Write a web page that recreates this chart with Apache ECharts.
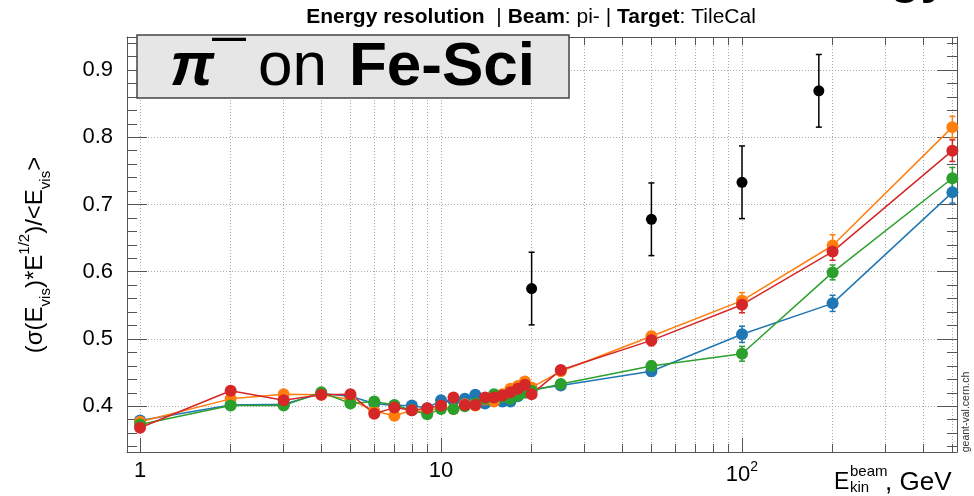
<!DOCTYPE html>
<html><head><meta charset="utf-8">
<script src="https://cdn.jsdelivr.net/npm/echarts@6/dist/echarts.min.js"></script>
<style>html,body{margin:0;padding:0;background:#fff}#c{width:974px;height:496px}</style>
</head><body><div id="c"></div>
<script>
// ---- data ----
const energies = [1,2,3,4,5,6,7,8,9,10,11,12,13,14,15,16,17,18,19,20,25,50,100,200,500];
const blueVals   = [0.379,0.402,0.403,0.419,0.415,0.404,0.401,0.401,0.397,0.409,0.408,0.411,0.417,0.404,0.410,0.407,0.407,0.415,0.423,0.425,0.431,0.452,0.507,0.553,0.718];
const orangeVals = [0.377,0.411,0.418,0.417,0.410,0.393,0.386,0.394,0.391,0.400,0.396,0.403,0.401,0.410,0.407,0.418,0.426,0.430,0.437,0.428,0.452,0.504,0.557,0.639,0.815];
const greenVals  = [0.373,0.401,0.401,0.421,0.404,0.407,0.402,0.394,0.388,0.396,0.396,0.400,0.404,0.411,0.418,0.414,0.411,0.416,0.420,0.423,0.433,0.460,0.478,0.599,0.739];
const redVals    = [0.368,0.423,0.409,0.417,0.418,0.389,0.398,0.394,0.397,0.401,0.413,0.402,0.402,0.413,0.413,0.416,0.421,0.426,0.432,0.418,0.454,0.498,0.551,0.630,0.780];
const blueErr    = [0.004,0.004,0.004,0.004,0.004,0.004,0.004,0.004,0.004,0.004,0.004,0.004,0.004,0.004,0.004,0.004,0.004,0.004,0.004,0.005,0.005,0.007,0.012,0.012,0.016];
const orangeErr  = [0.004,0.004,0.004,0.004,0.004,0.004,0.004,0.004,0.004,0.004,0.004,0.004,0.004,0.004,0.004,0.004,0.004,0.004,0.004,0.005,0.005,0.007,0.012,0.016,0.016];
const greenErr   = [0.004,0.004,0.004,0.004,0.004,0.004,0.004,0.004,0.004,0.004,0.004,0.004,0.004,0.004,0.004,0.004,0.004,0.004,0.004,0.005,0.005,0.007,0.011,0.011,0.016];
const redErr     = [0.004,0.004,0.004,0.004,0.004,0.004,0.004,0.004,0.004,0.004,0.004,0.004,0.004,0.004,0.004,0.004,0.004,0.004,0.004,0.005,0.005,0.008,0.012,0.013,0.016];
const expEnergies = [20,50,100,180];
const expVals     = [0.575,0.678,0.733,0.869];
const expErr      = [0.054,0.054,0.054,0.054];
const xMajorTicks = [1,10,100];
const xAllTicks = [1,2,3,4,5,6,7,8,9,10,20,30,40,50,60,70,80,90,100,200,300,400,500];
const yMajorTicks = [0.4,0.5,0.6,0.7,0.8,0.9];
const yMinorTicks = [0.34,0.36,0.38,0.42,0.44,0.46,0.48,0.52,0.54,0.56,0.58,0.62,0.64,0.66,0.68,0.72,0.74,0.76,0.78,0.82,0.84,0.86,0.88,0.92,0.94];

const FONT = 'Liberation Sans';
const XMIN = 0.905, XMAX = 518, YMIN = 0.332, YMAX = 0.949;
const AXC = '#555';

function pairs(xs, ys){ return xs.map((x,i)=>[x, ys[i]]); }
function lineSeries(name, ys, color){
  return {name, type:'line', data:pairs(energies, ys), symbol:'circle', symbolSize:12,
    lineStyle:{color, width:1.5}, itemStyle:{color, opacity:1}, z:3, animation:false};
}
function errSeries(xs, ys, es, color, cap){
  return {type:'custom', data: xs.map((x,i)=>[x, ys[i]-es[i], ys[i]+es[i]]),
    encode:{x:0, y:[1,2]}, z:2, animation:false,
    renderItem:(params, api)=>{
      const x = api.value(0), lo = api.value(1), hi = api.value(2);
      const a = api.coord([x, lo]), b = api.coord([x, hi]);
      return {type:'group', children:[
        {type:'line', shape:{x1:a[0],y1:a[1],x2:b[0],y2:b[1]}, style:{stroke:color, lineWidth:1.5}},
        {type:'line', shape:{x1:a[0]-cap,y1:a[1],x2:a[0]+cap,y2:a[1]}, style:{stroke:color, lineWidth:1.5}},
        {type:'line', shape:{x1:b[0]-cap,y1:b[1],x2:b[0]+cap,y2:b[1]}, style:{stroke:color, lineWidth:1.5}}
      ]};
    }};
}

const gridLine = {show:true, lineStyle:{color:'#aaa', type:[1,2], width:1}};
function xAx(pos, tickVals, len, extra){
  return Object.assign({type:'log', logBase:10, min:XMIN, max:XMAX, position:pos,
    axisLine:{show:true, lineStyle:{color:AXC, width:1}},
    axisTick:{show:true, inside:true, length:len, customValues:tickVals, lineStyle:{color:AXC, width:1}},
    axisLabel:{show:false}, splitLine:{show:false}}, extra||{});
}
function yAx(pos, tickVals, len, extra){
  return Object.assign({type:'value', min:YMIN, max:YMAX, position:pos,
    axisLine:{show:true, lineStyle:{color:AXC, width:1}},
    axisTick:{show:true, inside:true, length:len, customValues:tickVals, lineStyle:{color:AXC, width:1}},
    axisLabel:{show:false}, splitLine:{show:false}}, extra||{});
}

const chart = echarts.init(document.getElementById('c'), null, {renderer:'canvas'});
chart.setOption({
  animation:false,
  grid:{left:127, right:17, top:37, bottom:44, containLabel:false},
  xAxis:[
    xAx('bottom', xAllTicks, 8, {
      axisLabel:{show:true, customValues:xMajorTicks, margin:8, color:'#000', fontFamily:FONT, fontSize:22,
        formatter:(v)=>{ const r=Math.round(v); return r===100 ? '{a|10}{b|2}' : String(r); },
        rich:{a:{fontFamily:FONT, fontSize:22, color:'#000', lineHeight:26, verticalAlign:'bottom'},
              b:{fontFamily:FONT, fontSize:14, color:'#000', lineHeight:26, verticalAlign:'top'}}},
      splitLine:gridLine}),
    xAx('bottom', xMajorTicks, 14, {axisLine:{show:false}}),
    xAx('top', xAllTicks, 8)
  ],
  yAxis:[
    yAx('left', yMajorTicks, 20, {
      axisLabel:{show:true, customValues:yMajorTicks, margin:14, color:'#000', fontFamily:FONT, fontSize:22,
        formatter:(v)=>v.toFixed(1)},
      splitLine:gridLine}),
    yAx('left', yMinorTicks, 10, {axisLine:{show:false}}),
    yAx('right', yMajorTicks, 20),
    yAx('right', yMinorTicks, 10, {axisLine:{show:false}})
  ],
  series:[
    errSeries(energies, blueVals, blueErr, '#1f77b4', 3),
    lineSeries('blue', blueVals, '#1f77b4'),
    errSeries(energies, orangeVals, orangeErr, '#ff7f0e', 3),
    lineSeries('orange', orangeVals, '#ff7f0e'),
    errSeries(energies, greenVals, greenErr, '#2ca02c', 3),
    lineSeries('green', greenVals, '#2ca02c'),
    errSeries(energies, redVals, redErr, '#d62728', 3),
    lineSeries('red', redVals, '#d62728'),
    errSeries(expEnergies, expVals, expErr, '#000', 3),
    {type:'scatter', data:pairs(expEnergies, expVals), symbol:'circle', symbolSize:11, itemStyle:{color:'#000', opacity:1}, z:4, animation:false}
  ],
  graphic:[
    {type:'text', x:531, y:17, z:100, style:{
      text:'{b|Energy resolution}{n|  | }{b|Beam}{n|: pi- | }{b|Target}{n|: TileCal}',
      align:'center', verticalAlign:'middle',
      rich:{b:{fontFamily:FONT, fontSize:21, fontWeight:'bold', fill:'#000'},
            n:{fontFamily:FONT, fontSize:21, fill:'#000'}}}},
    {type:'text', x:35, y:255, rotation:Math.PI/2, z:100, style:{
      text:'{n|(σ(E}{s|vis}{n|)*E}{p|1/2}{n|)/<E}{s|vis}{n|>}',
      align:'center', verticalAlign:'middle',
      rich:{n:{fontFamily:FONT, fontSize:24, fill:'#000', lineHeight:36},
            s:{fontFamily:FONT, fontSize:15, fill:'#000', lineHeight:16, verticalAlign:'bottom'},
            p:{fontFamily:FONT, fontSize:15, fill:'#000', lineHeight:18, verticalAlign:'top'}}}},
    {type:'rect', z:100, shape:{x:137, y:35, width:432, height:63}, style:{fill:'#e6e6e6', stroke:'#444', lineWidth:1.5}},
    {type:'text', x:170, y:68, z:101, style:{text:'π', fontFamily:FONT, fontSize:62, fontWeight:'bold', fontStyle:'italic', fill:'#000', align:'left', verticalAlign:'middle'}},
    {type:'text', x:212, y:39, z:101, style:{text:'—', fontFamily:FONT, fontSize:34, fontWeight:'bold', fill:'#000', align:'left', verticalAlign:'middle'}},
    {type:'text', x:258, y:68, z:101, style:{text:'on', fontFamily:FONT, fontSize:62, fill:'#000', align:'left', verticalAlign:'middle'}},
    {type:'text', x:349, y:68, z:101, style:{text:'Fe-Sci', fontFamily:FONT, fontSize:62, fontWeight:'bold', fill:'#000', align:'left', verticalAlign:'middle'}},
    {type:'text', x:834, y:483, z:100, style:{text:'E', fontFamily:FONT, fontSize:23, fill:'#000', align:'left', verticalAlign:'middle'}},
    {type:'text', x:850, y:472, z:100, style:{text:'beam', fontFamily:FONT, fontSize:15, fill:'#000', align:'left', verticalAlign:'middle'}},
    {type:'text', x:850, y:488, z:100, style:{text:'kin', fontFamily:FONT, fontSize:15, fill:'#000', align:'left', verticalAlign:'middle'}},
    {type:'text', x:885, y:483, z:100, style:{text:', GeV', fontFamily:FONT, fontSize:26, fill:'#000', align:'left', verticalAlign:'middle'}},
    {type:'text', x:966, y:412, rotation:Math.PI/2, z:100, style:{text:'geant-val.cern.ch', fontFamily:FONT, fontSize:10.5, fill:'#333', align:'center', verticalAlign:'middle'}},
    {type:'text', x:890, y:-21, z:100, style:{text:'gy', fontFamily:FONT, fontSize:50, fontWeight:'bold', fill:'#000', align:'left', verticalAlign:'middle'}}
  ]
});
</script></body></html>
